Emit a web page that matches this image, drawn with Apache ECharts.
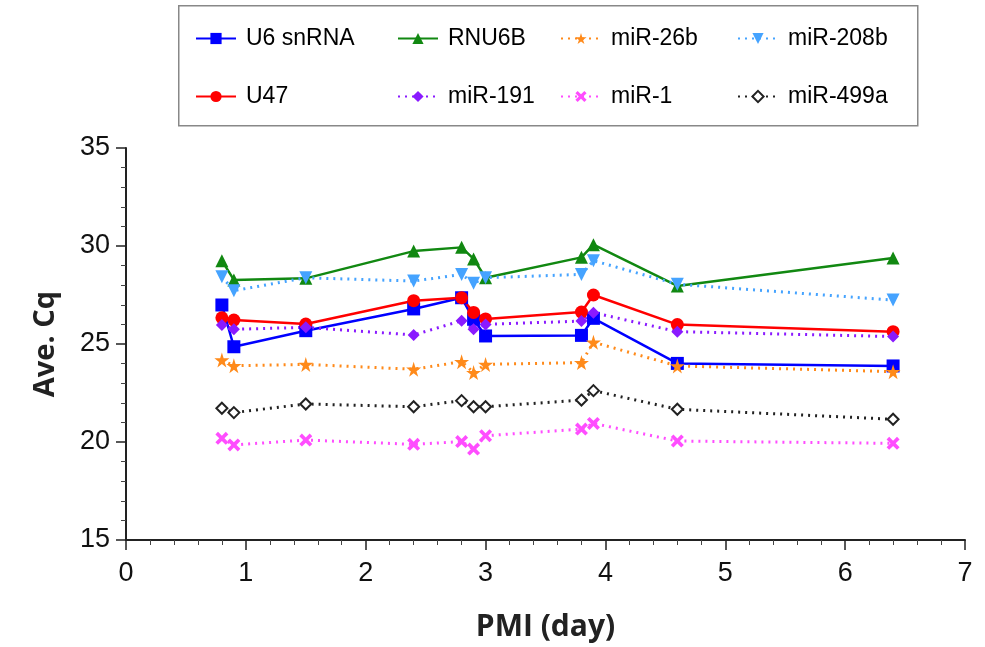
<!DOCTYPE html>
<html>
<head>
<meta charset="utf-8">
<script src="https://cdn.jsdelivr.net/npm/echarts@6/dist/echarts.min.js"></script>
<style>
html,body{margin:0;padding:0;background:#fff;}
#chart{width:985px;height:647px;}
</style>
</head>
<body>
<div id="chart"></div>
<script>
var pmi = [0.8, 0.9, 1.5, 2.4, 2.8, 2.9, 3.0, 3.8, 3.9, 4.6, 6.4];
var u6snRNA = [26.99, 24.86, 25.68, 26.79, 27.36, 26.26, 25.41, 25.44, 26.31, 24.01, 23.88];
var rnu6b   = [29.25, 28.27, 28.35, 29.74, 29.93, 29.34, 28.38, 29.42, 30.07, 27.96, 29.39];
var mir26b  = [24.18, 23.89, 23.96, 23.71, 24.10, 23.54, 23.96, 24.05, 25.09, 23.88, 23.59];
var mir208b = [28.43, 27.72, 28.38, 28.21, 28.55, 28.10, 28.38, 28.55, 29.25, 28.05, 27.24];
var u47     = [26.34, 26.22, 26.02, 27.21, 27.36, 26.61, 26.28, 26.63, 27.50, 25.99, 25.63];
var mir191  = [25.97, 25.75, 25.85, 25.46, 26.19, 25.75, 26.00, 26.17, 26.60, 25.63, 25.38];
var mir1    = [20.19, 19.85, 20.10, 19.88, 20.02, 19.64, 20.32, 20.66, 20.95, 20.05, 19.93];
var mir499a = [21.72, 21.50, 21.94, 21.80, 22.11, 21.80, 21.80, 22.14, 22.62, 21.67, 21.16];
var xTicks = [0, 1, 2, 3, 4, 5, 6, 7];
var yTicks = [15, 20, 25, 30, 35];

var STAR = 'path://M50,0 L61,35 L98,35 L68,57 L79,91 L50,70 L21,91 L32,57 L2,35 L39,35 Z';
var XMARK = 'path://M2,0 L5,3 L8,0 L10,2 L7,5 L10,8 L8,10 L5,7 L2,10 L0,8 L3,5 L0,2 Z';

function pairs(vals){ return pmi.map(function(x,i){ return [x, vals[i]]; }); }

function mk(name, vals, color, symbol, size, dotted, extra){
  var s = {
    name: name, type: 'line', data: pairs(vals),
    symbol: symbol, symbolSize: size,
    itemStyle: {color: color},
    lineStyle: {color: color, width: dotted ? 3 : 2.5, type: dotted ? [2, 5] : 'solid'},
    animation: false
  };
  if (extra) for (var k in extra) s[k] = extra[k];
  return s;
}

var series = [
  mk('U6 snRNA', u6snRNA, '#0000ff', 'rect', 13, false),
  mk('RNU6B', rnu6b, '#118811', 'triangle', 13, false),
  mk('miR-26b', mir26b, '#ff8a1a', STAR, 15, true),
  mk('miR-208b', mir208b, '#45a3ff', 'triangle', 13, true, {symbolRotate: 180}),
  mk('U47', u47, '#ff0000', 'circle', 13, false),
  mk('miR-191', mir191, '#8a1aff', 'diamond', 12, true),
  mk('miR-1', mir1, '#ff4dff', XMARK, 13, true),
  mk('miR-499a', mir499a, '#222222', 'emptyDiamond', 11, true, {itemStyle: {color: '#222222', borderWidth: 1}})
];

var legendFont = {fontSize: 23, color: '#000', fontFamily: 'Liberation Sans', padding: [0, 0, 0, 5]};
function leg(left, names){
  return {
    orient: 'vertical', left: left, top: 27, itemGap: 35, padding: 0,
    itemWidth: 40, itemHeight: 14, data: names, textStyle: legendFont,
    selectedMode: false
  };
}

var chart = echarts.init(document.getElementById('chart'), null, {renderer: 'canvas'});
chart.setOption({
  backgroundColor: '#fff',
  animation: false,
  grid: {left: 126, right: 20, top: 148, bottom: 107, containLabel: false},
  legend: [
    leg(195, ['U6 snRNA', 'U47']),
    leg(397, ['RNU6B', 'miR-191']),
    leg(560, ['miR-26b', 'miR-1']),
    leg(737, ['miR-208b', 'miR-499a'])
  ],
  graphic: [{
    type: 'rect', left: 178, top: 5, z: -1,
    shape: {width: 739, height: 120},
    style: {fill: '#fff', stroke: '#888', lineWidth: 1.5}
  }],
  xAxis: {
    type: 'value', min: xTicks[0], max: xTicks[xTicks.length - 1], interval: 1,
    name: 'PMI (day)', nameLocation: 'middle', nameGap: 72,
    nameTextStyle: {fontSize: 30, fontWeight: 'bold', color: '#222', fontFamily: 'Open Sans'},
    axisLine: {onZero: false, lineStyle: {color: '#222', width: 2}},
    axisTick: {show: true, length: 10, lineStyle: {color: '#222', width: 1.5}},
    minorTick: {show: true, splitNumber: 5, length: 5, lineStyle: {color: '#444', width: 1}},
    axisLabel: {fontSize: 27, color: '#111', margin: 20, fontFamily: 'Liberation Sans'},
    splitLine: {show: false}
  },
  yAxis: {
    type: 'value', min: yTicks[0], max: yTicks[yTicks.length - 1], interval: 5,
    name: 'Ave. Cq', nameLocation: 'middle', nameGap: 66,
    nameTextStyle: {fontSize: 29, fontWeight: 'bold', color: '#222', fontFamily: 'Open Sans'},
    axisLine: {show: true, lineStyle: {color: '#222', width: 2}},
    axisTick: {show: true, length: 10, lineStyle: {color: '#222', width: 1.5}},
    minorTick: {show: true, splitNumber: 5, length: 5, lineStyle: {color: '#444', width: 1}},
    axisLabel: {fontSize: 27, color: '#111', margin: 16, fontFamily: 'Liberation Sans'},
    splitLine: {show: false}
  },
  series: series
});
</script>
</body>
</html>
